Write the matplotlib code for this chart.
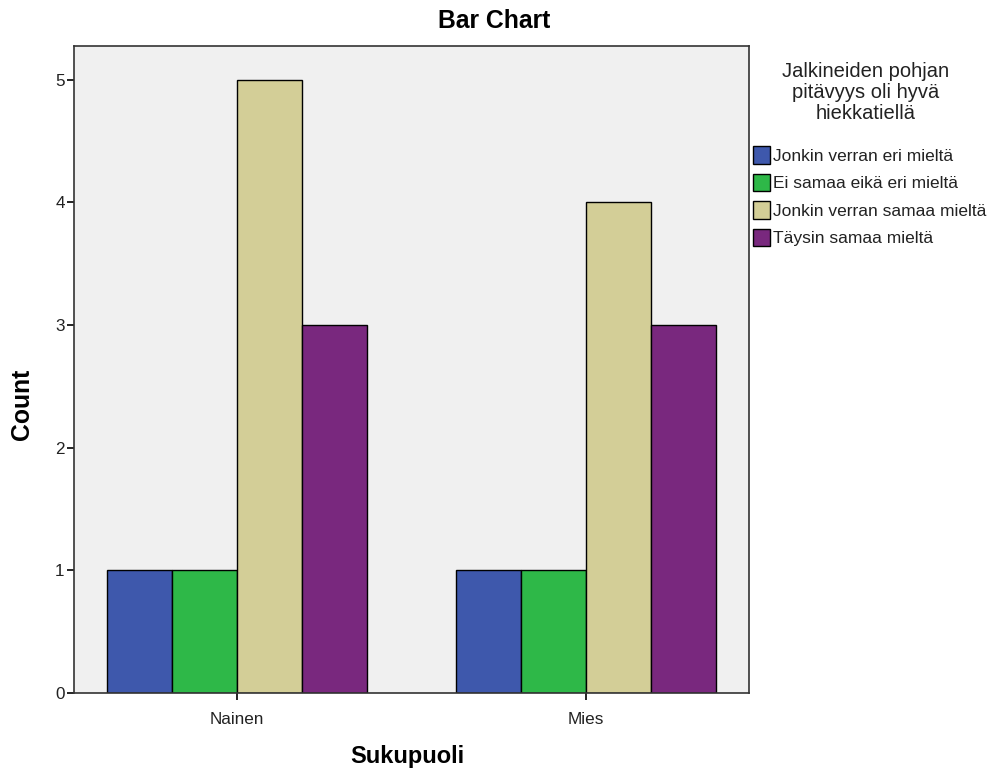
import numpy as np
import matplotlib.pyplot as plt
from matplotlib.patches import Patch

# %% Data
groups = ['Nainen', 'Mies']
categories = ['Jonkin verran eri mieltä', 'Ei samaa eikä eri mieltä',
              'Jonkin verran samaa mieltä', 'Täysin samaa mieltä']
counts = [
    [1, 1],  # Jonkin verran eri mieltä
    [1, 1],  # Ei samaa eikä eri mieltä
    [5, 4],  # Jonkin verran samaa mieltä
    [3, 3],  # Täysin samaa mieltä
]
colors = ['#3E58AC', '#2EB848', '#D3CE97', '#79287E']

# %% Plot
plt.rcParams['font.family'] = ['Liberation Sans', 'DejaVu Sans']
fig = plt.figure(figsize=(9.89, 7.74), dpi=100)
ax = fig.add_axes([0.0753, 0.1047, 0.6817, 0.8353])
ax.set_facecolor('#F0F0F0')

x = np.arange(len(groups))
width = 0.1865
for i, (cat, vals) in enumerate(zip(categories, counts)):
    offs = (i - 1.5) * width
    ax.bar(x + offs, vals, width, color=colors[i], edgecolor='black',
           linewidth=1.0, label=cat, zorder=2)

ax.set_xlim(-0.466, 1.467)
ax.set_ylim(0, 5.27)
ax.set_xticks(x)
ax.set_xticklabels(groups, fontsize=12.3, color='#222222')
ax.set_yticks(range(6))
ax.tick_params(axis='y', labelsize=12.3, labelcolor='#222222', length=5, width=1.2, pad=2)
ax.tick_params(axis='x', length=5, width=1.2, pad=9)
for s in ax.spines.values():
    s.set_linewidth(1.2)
    s.set_color('#333333')

fig.text(0.4995, 0.9735, 'Bar Chart', ha='center', va='center',
         fontsize=17.8, fontweight='bold')
fig.text(0.022, 0.478, 'Count', ha='center', va='center', rotation=90,
         fontsize=17.8, fontweight='bold')
fig.text(0.4115, 0.022, 'Sukupuoli', ha='center', va='center',
         fontsize=17, fontweight='bold')

fig.text(0.8755, 0.880, 'Jalkineiden pohjan\npitävyys oli hyvä\nhiekkatiellä',
         ha='center', va='center', fontsize=14.5, linespacing=1.13,
         color='#222222')

handles = [Patch(facecolor=c, edgecolor='black', linewidth=1.0) for c in colors]
fig.legend(handles, categories, loc='upper left',
           bbox_to_anchor=(0.7615, 0.811), frameon=False, fontsize=12.5,
           handlelength=0.95, handleheight=1.15, handletextpad=0.2,
           labelspacing=0.58, borderaxespad=0, borderpad=0, labelcolor='#222222')

fig.savefig('out.png', dpi=100)
